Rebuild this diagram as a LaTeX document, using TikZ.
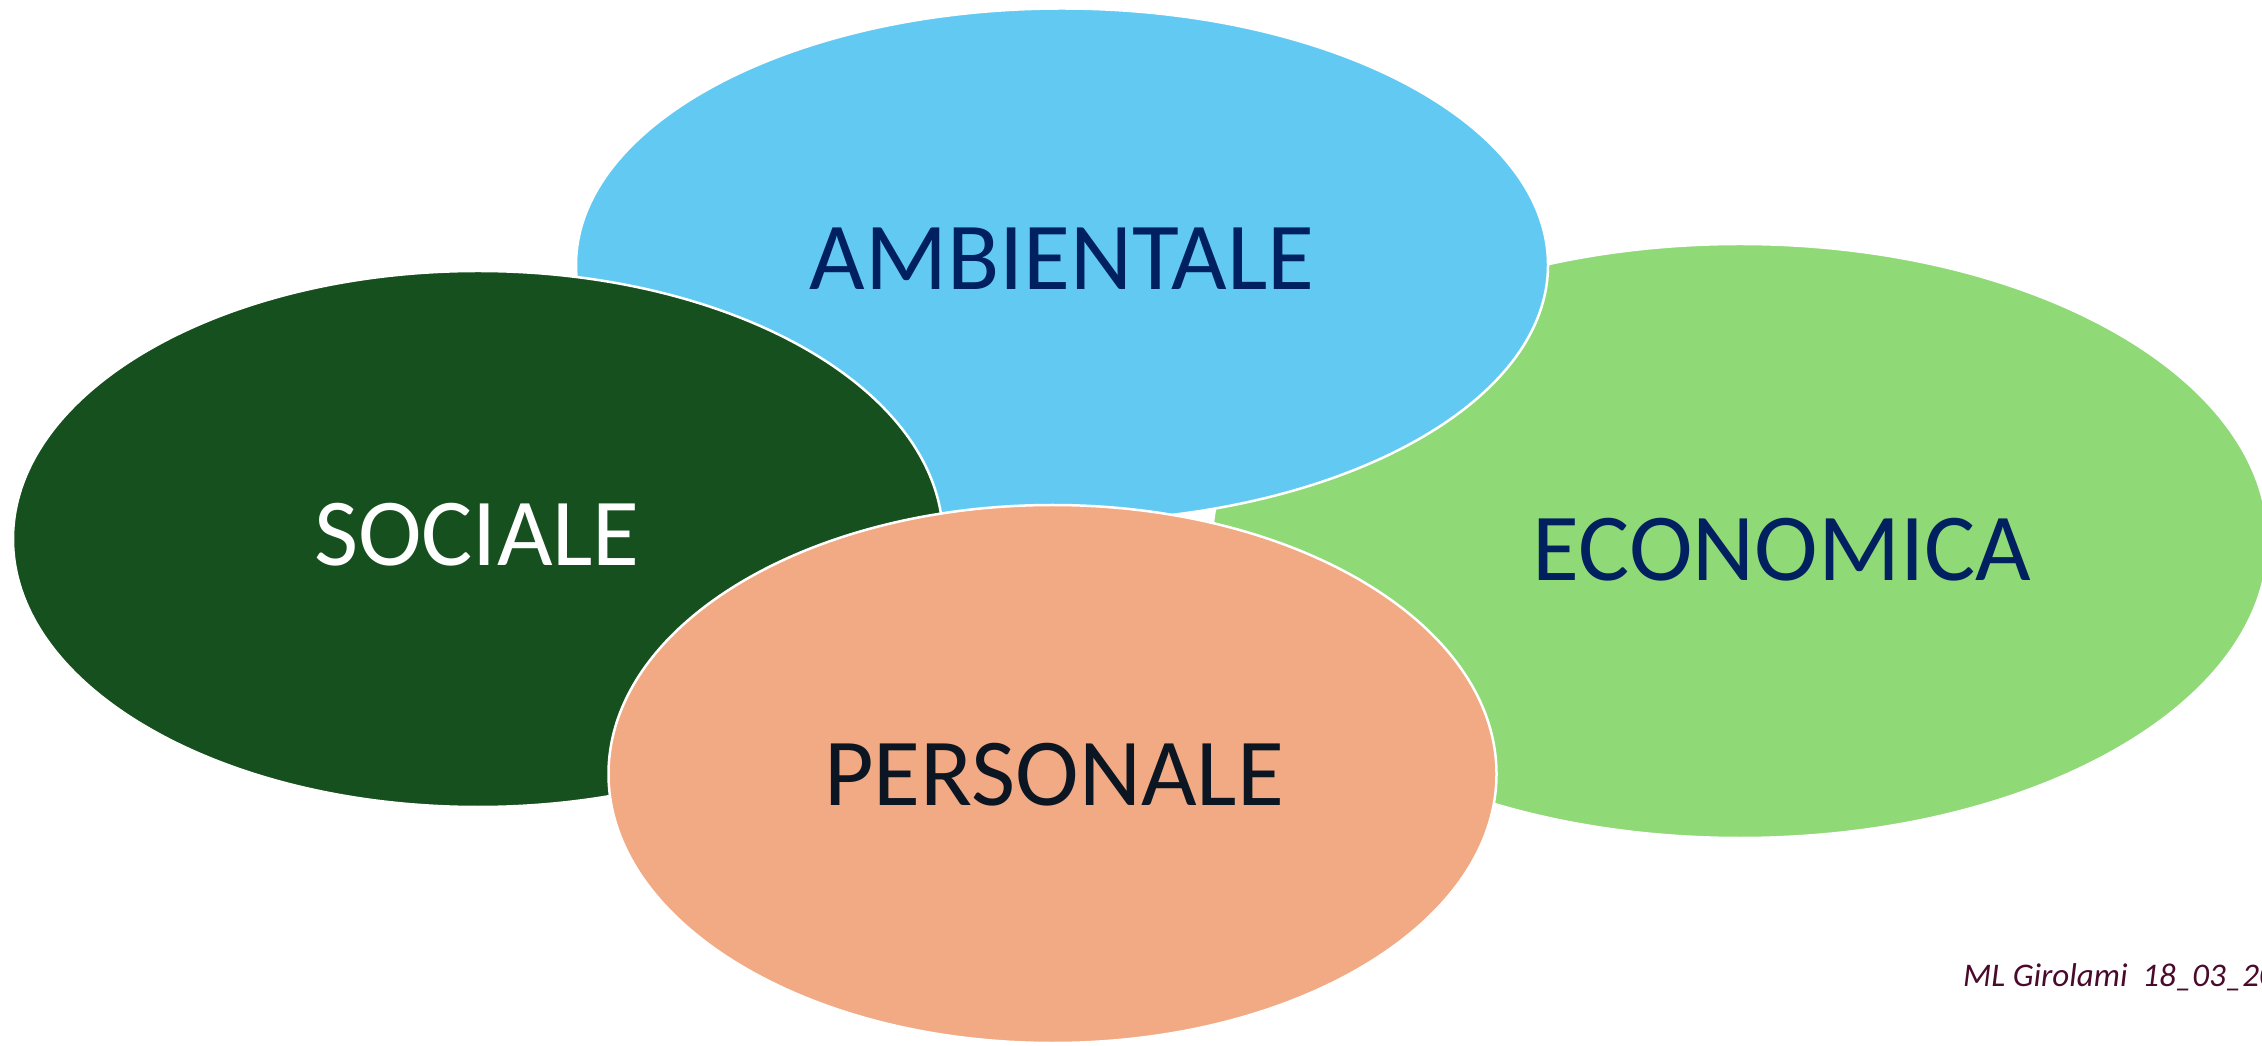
\documentclass[tikz,border=0pt]{standalone}
\usepackage{fontspec}
\setmainfont{Carlito}
\usetikzlibrary{shapes.geometric}
\definecolor{ambblue}{HTML}{62CAF2}
\definecolor{socgreen}{HTML}{16501E}
\definecolor{ecogreen}{HTML}{8FD977}
\definecolor{perorange}{HTML}{F1AA84}
\definecolor{navy}{HTML}{002060}
\definecolor{darkink}{HTML}{0B1622}
\definecolor{maroon}{HTML}{4A0A2C}
\begin{document}
\begin{tikzpicture}[x=1pt,y=1pt,
  blob/.style={ellipse, draw=white, line width=2.5pt, inner sep=0pt},
  word/.style={anchor=base, inner sep=0pt, font=\fontsize{96}{100}\selectfont}]
\useasboundingbox[fill=white] (0,0) rectangle (2262,1045);
% economica (back)
\node[blob, fill=ecogreen, minimum width=1056pt, minimum height=594pt] (eco) at (1740,504) {};
\node[word, text=navy] (ecot) at (1782,464) {ECONOMICA};
% ambientale
\node[blob, fill=ambblue, minimum width=972pt, minimum height=513pt] (amb) at (1062,780) {};
\node[word, text=navy] (ambt) at (1062,755) {AMBIENTALE};
% sociale
\node[blob, fill=socgreen, minimum width=930pt, minimum height=536pt] (soc) at (478,506) {};
\node[word, text=white] (soct) at (477,479) {SOCIALE};
% personale (front)
\node[blob, fill=perorange, minimum width=888pt, minimum height=538pt] (per) at (1052.5,271) {};
\node[word, text=darkink] (pert) at (1054,240) {PERSONALE};
% footer
\node[anchor=base west, inner sep=0pt, text=maroon, font=\fontsize{33}{36}\selectfont\itshape] (foot) at (1963,59) {ML Girolami\ \ 18\_03\_20};
\end{tikzpicture}
\end{document}
